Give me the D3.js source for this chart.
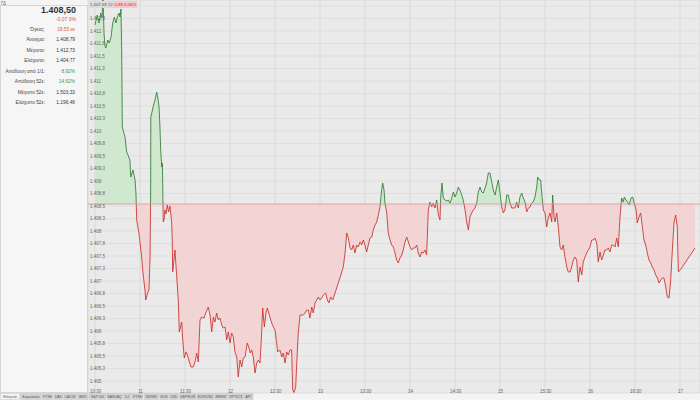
<!DOCTYPE html>
<html><head><meta charset="utf-8">
<script src="https://cdn.jsdelivr.net/npm/d3@7"></script>
<style>body{margin:0;background:#f4f4f4;}svg{display:block;font-family:"Liberation Sans",Arial,sans-serif;}</style>
</head><body><svg id="c" width="700" height="400"></svg>
<script>
// minutes after 10:30
const minutesFrom1030 = [0,1.5,2.7,3.8,4.7,5.3,6,6.7,7.3,8.5,9.5,10.7,11.8,12.9,14,14.9,16,16.7,17.3,17.8,18.2,20,21.1,22,23.3,23.8,25.3,26.7,27.3,27.8,29.3,31.1,32,33.3,33.8,35.1,36,36.7,37.1,37.2,38,38.7,40,41.1,41.8,42.7,43.3,43.8,44.5,44.9,45.1,45.5,46,46.7,47.3,48.2,49,50,51.1,51.5,51.8,52.3,53.3,54.5,55.5,56.2,57.8,58.5,59.5,60.7,61.8,62.9,64,65.5,66.7,67.8,68.9,70,71.1,72.7,73.8,75.5,76.7,77.8,78.9,80,81.1,82.2,83.3,84.5,85.5,86.7,87.8,88.9,90,91.1,92.2,93.3,94.5,95.5,96.7,97.8,98.9,100,101.5,102.7,103.5,104.5,105.5,106.7,107.8,108.9,110,111.1,111.8,112.9,114,114.9,116.2,117.8,118.9,120,121.1,121.8,123.3,124.5,125.5,126.7,127.8,128.9,130,131.1,131.8,132.7,133.8,134.5,135.5,136.7,138.9,140,141.1,142.2,143.3,144.5,145.5,146.7,147.8,148.9,150,151.1,152.2,153.8,154.9,156,157.1,158.5,160,162.2,164.5,165.5,166.7,167.8,168.9,170,171.1,172.2,173.3,174.5,175.5,176.7,177.8,178.9,180,181.1,182.2,183.3,184.5,185.5,186.7,187.8,188.9,190,191.1,191.8,192.7,193.3,194.5,195.5,196.7,197.8,198.9,200,201.1,202.2,203.3,204.5,205.5,206.7,207.8,208.9,210,211.1,212.2,213.3,214.5,215.5,216.7,217.8,218.9,220,221.1,222.2,223.3,224.5,225.5,226.7,227.8,228.9,230,230.5,231.3,232.2,233.3,234.5,235.5,236.7,237.8,238.9,240,241.1,242.2,243.3,244.5,245.5,246.7,247.8,248.9,250,251.1,252.2,253.3,254.5,255.5,256.7,257.8,258.9,260,261.1,262.2,263.3,264.5,265.5,266.7,267.8,268.9,270,271.1,272.2,273.3,274.5,275.5,276.7,277.8,280,281.1,282.2,283.3,284.5,285.5,286.7,287.8,288.9,290,291.1,292.2,293.3,294.5,295.1,296.2,297.1,297.8,298.9,300,301.1,302.2,303.3,304.5,305.1,306,306.7,307.8,308.9,310,311.1,312.2,313.3,314.5,315.5,316.7,317.8,318.9,320,321.1,322.2,323.3,324.5,325.5,326.7,327.8,328.9,330,331.1,332.2,333.3,334.5,335.5,336.7,337.8,338.9,340,341.1,342.2,343.3,344.5,345.5,346.7,347.8,348.9,350,351.1,352.2,352.9,354,355.1,356.2,357.3,358.5,359.5,360.7,361.5,362.7,363.8,364.9,366,367.1,368.2,369.3,370.5,371.5,372.7,373.8,374.9,376,377.1,378.2,379.3,380.5,381.5,382.7,383.8,384.9,386,387.1,388.2,388.9,391.1,393.3,395.5,397.8,400];
const prices = [1412.12,1412.32,1412.16,1412.36,1412.26,1412.73,1411.96,1411.68,1411.66,1411.82,
1411.76,1411.88,1412.16,1412.28,1412.16,1412.28,1412.36,1412.28,1412.44,1411.62,
1410.08,1409.88,1409.58,1409.52,1409.42,1409.08,1409.22,1409.02,1408.76,1408.22,
1407.96,1407.48,1407.16,1406.82,1406.62,1406.76,1406.82,1407.48,1408.76,1410.28,
1410.38,1410.48,1410.62,1410.78,1410.68,1410.48,1410.08,1409.62,1409.28,1409.36,
1409.02,1408.18,1408.22,1408.42,1408.34,1408.52,1408.38,1408.5,1408.18,1407.82,
1407.18,1407.32,1407.62,1407.08,1406.62,1405.98,1406.18,1405.82,1405.46,1405.58,
1405.5,1405.38,1405.28,1405.28,1405.38,1405.56,1405.38,1406.22,1406.28,1406.26,
1406.36,1406.48,1406.32,1405.98,1406.28,1406.18,1406.36,1406.22,1406.26,1406.12,
1406.06,1406.08,1405.82,1405.98,1405.76,1405.96,1405.88,1405.58,1405.48,1405.08,
1405.42,1405.28,1405.46,1405.48,1405.76,1405.66,1405.56,1405.62,1405.48,1405.16,
1405.36,1405.42,1405.36,1405.96,1406.46,1406.08,1406.36,1406.46,1406.32,1406.16,
1406.08,1406.02,1405.76,1405.58,1405.62,1405.48,1405.56,1405.36,1405.58,1405.52,
1405.62,1405.62,1404.82,1404.77,1404.88,1405.36,1405.96,1406.32,1406.32,1406.36,
1406.42,1406.42,1406.26,1406.48,1406.36,1406.56,1406.62,1406.68,1406.62,1406.66,
1406.72,1406.76,1406.62,1406.56,1406.68,1406.62,1406.76,1406.96,1407.18,1407.28,
1407.56,1407.96,1407.86,1407.66,1407.62,1407.72,1407.56,1407.72,1407.68,1407.78,
1407.72,1407.82,1407.72,1407.58,1407.72,1407.86,1407.88,1408.02,1408.12,1408.18,
1408.32,1408.48,1408.82,1408.96,1408.82,1408.56,1408.36,1407.96,1407.82,1407.72,
1407.68,1407.56,1407.42,1407.36,1407.46,1407.52,1407.62,1407.78,1407.88,1407.78,
1407.68,1407.62,1407.66,1407.66,1407.72,1407.56,1407.48,1407.58,1407.56,1407.62,
1407.52,1408.42,1408.58,1408.48,1408.56,1408.46,1408.62,1408.32,1408.22,1408.68,
1408.96,1408.66,1408.62,1408.6,1408.62,1408.56,1408.66,1408.78,1408.68,1408.76,
1408.88,1408.82,1408.72,1408.62,1408.42,1408.18,1408.02,1408.28,1408.36,1408.42,
1408.46,1408.56,1408.78,1408.88,1408.78,1408.76,1408.86,1408.96,1409.16,1409.16,
1408.98,1408.82,1408.72,1408.88,1409.02,1408.76,1408.48,1408.36,1408.42,1408.72,
1408.72,1408.56,1408.46,1408.46,1408.58,1408.46,1408.68,1408.76,1408.66,1408.58,
1408.38,1408.46,1408.48,1408.56,1408.58,1408.68,1408.88,1409.08,1409.02,1409.02,
1408.76,1408.42,1408.36,1408.08,1408.26,1408.36,1408.18,1408.72,1408.28,1408.18,
1408.36,1408.08,1407.68,1407.62,1407.72,1407.48,1407.28,1407.18,1407.18,1407.28,
1407.42,1407.48,1407.42,1406.98,1407.28,1407.12,1407.38,1407.48,1407.56,1407.62,
1407.68,1407.82,1407.82,1407.86,1407.76,1407.38,1407.58,1407.42,1407.52,1407.62,
1407.62,1407.66,1407.58,1407.72,1407.72,1407.68,1407.86,1407.68,1408.28,1408.66,
1408.58,1408.68,1408.62,1408.58,1408.52,1408.66,1408.68,1408.56,1408.42,1408.16,
1408.28,1408.36,1408.08,1407.82,1407.72,1407.56,1407.42,1407.36,1407.28,1407.22,
1407.12,1407.06,1406.96,1407.02,1407.06,1407.06,1406.88,1406.68,1406.66,1407.02,
1407.62,1408.16,1408.32,1408.08,1407.18,1407.26,1407.36,1407.46,1407.56,1407.66];
const prevClose = 1408.54;
const timeTicks = [630,660,690,720,750,780,810,840,870,900,930,960,990,1020];
const timeTickLabels = ["10:30","11","11:30","12","12:30","13","13:30","14","14:30","15","15:30","16","16:30","17"];
const priceTicks = [1405,1405.25,1405.5,1405.75,1406,1406.25,1406.5,1406.75,1407,1407.25,1407.5,1407.75,1408,1408.25,1408.5,1408.75,1409,1409.25,1409.5,1409.75,1410,1410.25,1410.5,1410.75,1411,1411.25,1411.5,1411.75,1412,1412.25];
const infoLabels = ["Όγκος:","Άνοιγμα:","Μέγιστο:","Ελάχιστο:","Απόδοση από 1/1:","Απόδοση 52ε:","Μέγιστο 52ε:","Ελάχιστο 52ε:"];
const infoValues = ["19,55 εκ","1.408,79","1.412,73","1.404,77","8,92%","14,62%","1.503,33","1.196,46"];
const infoColors = ["#d9534f","#333","#333","#333","#3c9a3c","#3c9a3c","#333","#333"];
const tabLabels = ["Ελληνικά","Ευρωπαϊκά","FTSE","DAX","CAC40","IBEX","S&P 500","NASDAQ","DJ","FTSE","NIKKEI","EUR","USD","GBP/EUR","EUR/USD","BRENT","ΧΡΥΣΟΣ","ΑΡΓ"];

const svg = d3.select("#c");
const data = minutesFrom1030.map((m,i)=>({t:630+m, p:prices[i]}));
const X0 = 88, X1 = 700, Y0 = 0, Y1 = 393;
const x = d3.scaleLinear().domain([630 - 7/1.5, 630 + (700-95)/1.5]).range([X0, X1]);
const y = d3.scaleLinear().domain([1404.62, 1412.62]).range([400, 0]);

// left panel
svg.append("rect").attr("x",0).attr("y",0).attr("width",700).attr("height",400).attr("fill","#f4f4f4");
svg.append("rect").attr("x",0.5).attr("y",5.5).attr("width",87).attr("height",387).attr("fill","#f6f6f6").attr("stroke","#d6d6d6");
svg.append("text").attr("x",1).attr("y",4.5).attr("font-size",4.5).attr("fill","#666").text("ΓΔ");
svg.append("text").attr("x",76).attr("y",12.5).attr("text-anchor","end").attr("font-size",9).attr("font-weight","bold").attr("fill","#333").text("1.408,50");
svg.append("text").attr("x",76).attr("y",21).attr("text-anchor","end").attr("font-size",5).attr("fill","#d9534f").text("-0,07   0%");
const rowY = [29,39.5,50,60.5,71,81.5,92,102.5];
infoLabels.forEach((l,i)=>{
  svg.append("text").attr("x",45).attr("y",rowY[i]+1.8).attr("text-anchor","end").attr("font-size",4.8).attr("fill","#444").text(l);
  svg.append("text").attr("x",75).attr("y",rowY[i]+1.8).attr("text-anchor","end").attr("font-size",4.8).attr("fill",infoColors[i]).text(infoValues[i]);
});

// plot background
svg.append("rect").attr("x",X0).attr("y",Y0).attr("width",X1-X0).attr("height",Y1-Y0).attr("fill","#eaeaea").attr("stroke","#d0d0d0").attr("stroke-width",0.6);
const g = svg.append("g");
g.selectAll(".hg").data(priceTicks.concat([1412.5])).join("line")
  .attr("x1",X0).attr("x2",X1).attr("y1",d=>y(d)).attr("y2",d=>y(d))
  .attr("stroke","#dcdcdc").attr("stroke-width",0.8);
g.selectAll(".vg").data(timeTicks).join("line")
  .attr("x1",d=>x(d)).attr("x2",d=>x(d)).attr("y1",Y0).attr("y2",Y1)
  .attr("stroke","#d6d6d6").attr("stroke-width",0.8);

// clips
const defs = svg.append("defs");
const yRef = y(prevClose);
defs.append("clipPath").attr("id","above").append("rect").attr("x",X0).attr("y",Y0).attr("width",X1-X0).attr("height",yRef-Y0);
defs.append("clipPath").attr("id","below").append("rect").attr("x",X0).attr("y",yRef).attr("width",X1-X0).attr("height",Y1-yRef);

const area = d3.area().x(d=>x(d.t)).y0(yRef).y1(d=>y(d.p));
const line = d3.line().x(d=>x(d.t)).y(d=>y(d.p));
const gu = svg.append("g").attr("clip-path","url(#above)");
gu.append("path").datum(data).attr("d",area).attr("fill","#cfe7cf").attr("opacity",0.95);
const gd = svg.append("g").attr("clip-path","url(#below)");
gd.append("path").datum(data).attr("d",area).attr("fill","#f3d3d3").attr("opacity",0.95);

// reference line
svg.append("line").attr("x1",X0).attr("x2",X1).attr("y1",yRef).attr("y2",yRef).attr("stroke","#d29a9a").attr("stroke-width",0.8);

gu.append("path").datum(data).attr("d",line).attr("fill","none").attr("stroke","#2f7d32").attr("stroke-width",0.85);
gd.append("path").datum(data).attr("d",line).attr("fill","none").attr("stroke","#c9302c").attr("stroke-width",0.85);

// y axis labels
const fmt = v => { let s = v.toFixed(1); if (s.endsWith(".0")) s = s.slice(0,-2); const [a,b] = s.split("."); return a.replace(/\B(?=(\d{3})+(?!\d))/g,".") + (b?","+b:""); };
const ya = d3.axisRight(y).tickValues(priceTicks).tickSize(0).tickPadding(0).tickFormat(fmt);
const yg = svg.append("g").attr("transform",`translate(${X0+2},0)`).call(ya);
yg.select(".domain").remove();
yg.selectAll("text").attr("font-size",4.5).attr("fill","#666").attr("font-family","Liberation Sans, Arial, sans-serif");

// x axis labels
const xa = d3.axisBottom(x).tickValues(timeTicks).tickSize(0).tickPadding(0).tickFormat((d,i)=>timeTickLabels[i]);
const xg = svg.append("g").attr("transform",`translate(0,389.5)`).call(xa);
xg.select(".domain").remove();
xg.selectAll("text").attr("font-size",4.5).attr("fill","#666").attr("font-family","Liberation Sans, Arial, sans-serif");

// top info boxes
svg.append("rect").attr("x",89).attr("y",1).attr("width",24).attr("height",7).attr("fill","#dcdcdc");
svg.append("text").attr("x",90).attr("y",6.3).attr("font-size",4.3).attr("fill","#555").text("1.407,69 12");
svg.append("rect").attr("x",113).attr("y",1).attr("width",24).attr("height",7).attr("fill","#f5c9c9");
svg.append("text").attr("x",114.5).attr("y",6.3).attr("font-size",4.3).attr("fill","#c9302c").text("0,88 0,06%");

// bottom tabs
let tx = 0;
tabLabels.forEach((t,i)=>{
  const w = Math.max(9.5, t.length*2.05+3.5);
  svg.append("rect").attr("x",tx+0.5).attr("y",393.5).attr("width",w-1).attr("height",6).attr("fill", i===0?"#f4f4f4":"#d3d3d3").attr("stroke","#c4c4c4").attr("stroke-width",0.5);
  svg.append("text").attr("x",tx+w/2).attr("y",398.3).attr("text-anchor","middle").attr("font-size",3.4).attr("fill","#555").text(t);
  tx += w;
});
</script></body></html>
